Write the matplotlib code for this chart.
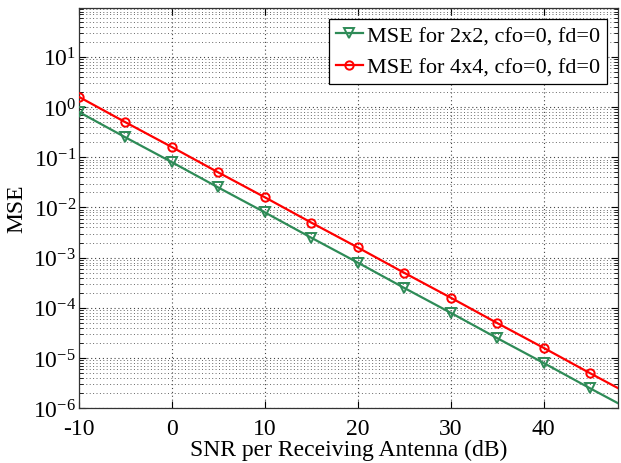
import matplotlib

matplotlib.use("Agg")
import matplotlib.pyplot as plt  # noqa: E402

snr_db = [-10, -5, 0, 5, 10, 15, 20, 25, 30, 35, 40, 45, 50]
mse_2x2 = [0.8, 0.25, 0.08, 0.025, 0.008, 0.0025, 8e-4, 2.5e-4, 8e-5, 2.5e-5, 8e-6, 2.5e-6, 8e-7]
mse_4x4 = [1.6, 0.5, 0.16, 0.05, 0.016, 0.005, 1.6e-3, 5e-4, 1.6e-4, 5e-5, 1.6e-5, 5e-6, 1.6e-6]
labels = ["MSE for 2x2, cfo=0, fd=0", "MSE for 4x4, cfo=0, fd=0"]

_GREEN, _RED = "#2e8b57", "#ff0000"

plt.rcParams["font.family"] = ["Liberation Serif", "DejaVu Serif"]
plt.rcParams["mathtext.fontset"] = "custom"
plt.rcParams["mathtext.rm"] = "Liberation Serif"
plt.rcParams["mathtext.it"] = "Liberation Serif:italic"
plt.rcParams["axes.unicode_minus"] = False

fig = plt.figure(figsize=(6.21, 4.64), dpi=100)
ax = fig.add_axes((0.127, 0.118, 0.868, 0.863))

ax.semilogy(snr_db, mse_2x2, "-v", color=_GREEN, lw=1.6, ms=7, mfc="none", mew=1.4,
            label=labels[0], zorder=3)
ax.semilogy(snr_db, mse_4x4, "-o", color=_RED, lw=1.6, ms=6, mfc="none", mew=1.4,
            label=labels[1], zorder=3)

ax.set_xlim(-10, 48)
ax.set_ylim(1e-6, 95)
ax.set_xticks([-10, 0, 10, 20, 30, 40])
ax.set_yticks([10.0 ** k for k in range(-6, 2)])
ax.grid(True, which="major", ls=(0, (1, 2.5)), color="#444444", lw=0.8)
ax.grid(True, which="minor", axis="y", ls=(0, (1, 2.5)), color="#666666", lw=0.7)
ax.tick_params(which="both", direction="in", top=True, right=True, labelsize=17)
ax.tick_params(axis="x", pad=7)
ax.tick_params(axis="y", pad=2)
ax.tick_params(which="major", length=5)
ax.tick_params(which="minor", length=3)
for s in ax.spines.values():
    s.set_color("#333333")
    s.set_linewidth(0.9)

ax.set_xlabel("SNR per Receiving Antenna (dB)", fontsize=17, labelpad=0)
ax.set_ylabel("MSE", fontsize=17, labelpad=4)

leg = ax.legend(loc="upper right", fontsize=16, fancybox=False, framealpha=1,
                edgecolor="black", borderpad=0.3, labelspacing=0.5, handlelength=1.2,
                handletextpad=0.2, borderaxespad=0.5)
leg.get_frame().set_linewidth(0.9)

fig.savefig("out.png", dpi=100)
